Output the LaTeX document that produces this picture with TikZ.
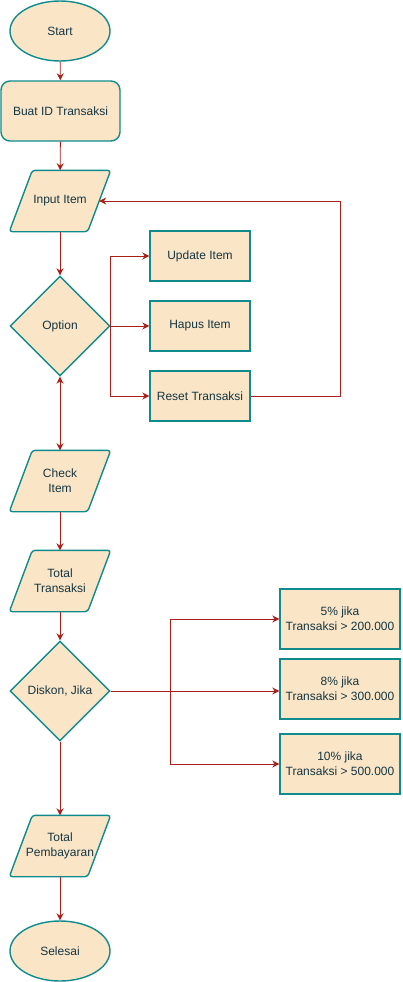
\documentclass[tikz,border=0pt]{standalone}
\usepackage{fontspec}
\setmainfont{Liberation Sans}
\usetikzlibrary{shapes.geometric,arrows.meta,backgrounds}
\definecolor{boxfill}{HTML}{FAE5C7}
\definecolor{boxline}{HTML}{0F8B8D}
\definecolor{boxtext}{HTML}{143642}
\definecolor{flowline}{HTML}{A8201A}
\tikzset{
  base/.style = {draw=boxline, fill=boxfill, line width=1.4pt, text=boxtext,
                 font=\fontsize{12}{15}\selectfont, align=center, inner sep=0pt},
  terminal/.style = {base, ellipse, minimum width=100pt, minimum height=60pt},
  process/.style = {base, rectangle, minimum width=100pt, minimum height=50pt},
  roundbox/.style = {base, rectangle, rounded corners=9pt, minimum width=119pt, minimum height=60pt},
  decision/.style = {base, diamond, minimum width=100pt, minimum height=100pt},
  data/.style = {base, draw=none, fill=none, rectangle, minimum width=77pt, minimum height=60pt},
  diskbox/.style = {process, minimum width=120pt, minimum height=60pt},
  flow/.style = {draw=flowline, line width=0.9pt, -{Stealth[length=7pt,width=7pt]}}
}
\begin{document}
\begin{tikzpicture}[x=1pt, y=-1pt]
    \useasboundingbox (0,0) rectangle (402,982);
    % main column
    \node[terminal] (start) at (60,31) {Start};
    \node[roundbox] (buat) at (60.5,111) {Buat ID Transaksi};
    \node[data] (input) at (60,201) {Input Item};
    \node[decision] (option) at (60,326) {Option};
    \node[data] (check) at (60,481) {Check\\Item};
    \node[data] (total) at (60,581) {Total\\Transaksi};
    \node[decision] (diskon) at (60,691) {Diskon, Jika};
    \node[data] (bayar) at (60,846) {Total\\Pembayaran};
    \node[terminal] (selesai) at (60,951) {Selesai};
    % options
    \node[process] (update) at (200,256) {Update Item};
    \node[process] (hapus) at (200,326) {Hapus Item};
    \node[process] (reset) at (200,396) {Reset Transaksi};
    % diskon
    \node[diskbox] (d5) at (340,619) {5\% jika\\Transaksi > 200.000};
    \node[diskbox] (d8) at (340,689) {8\% jika\\Transaksi > 300.000};
    \node[diskbox] (d10) at (340,764) {10\% jika\\Transaksi > 500.000};
    % parallelograms behind the text
    \begin{scope}[on background layer]
        \foreach \n in {input,check,total,bayar}
            \draw[base, rounded corners=3pt] ([xshift=11.5pt]\n.north west) -- ([xshift=11.5pt]\n.north east)
                -- ([xshift=-11.5pt]\n.south east) -- ([xshift=-11.5pt]\n.south west) -- cycle;
    \end{scope}
    % connectors
    \draw[flow] (start) -- (buat);
    \draw[flow] (buat) -- (input);
    \draw[flow] (input) -- (option);
    \draw[flow] (option.east) |- (update.west);
    \draw[flow] (option.east) -- (hapus.west);
    \draw[flow] (option.east) |- (reset.west);
    \draw[flow] (reset.east) -- ++(90,0) |- (input.east);
    \draw[flow, {Stealth[length=7pt,width=7pt]}-{Stealth[length=7pt,width=7pt]}] (option) -- (check);
    \draw[flow] (check) -- (total);
    \draw[flow] (total) -- (diskon);
    \draw[flow] (diskon.east) -- ++(60,0) |- (d5.west);
    \draw[flow] (diskon.east) -- (diskon.east -| d8.west);
    \draw[flow] (diskon.east) -- ++(60,0) |- (d10.west);
    \draw[flow] (diskon) -- (bayar);
    \draw[flow] (bayar) -- (selesai);
\end{tikzpicture}
\end{document}
